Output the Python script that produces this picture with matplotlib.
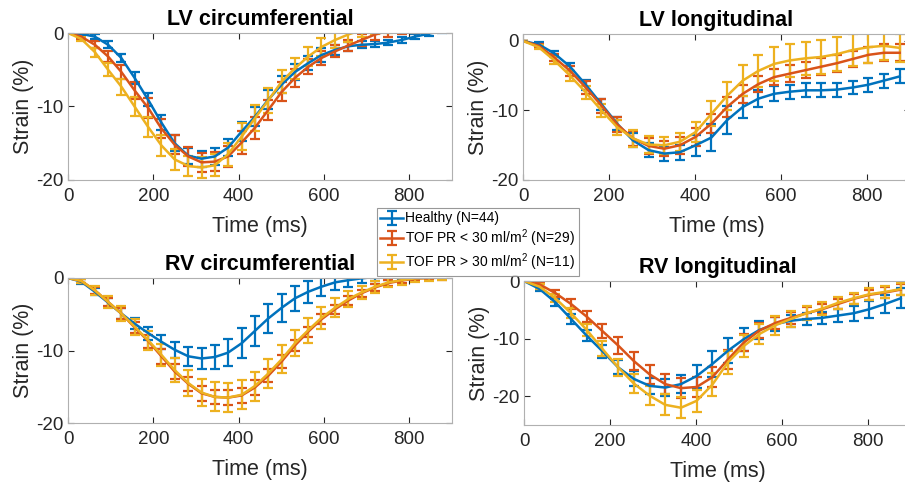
import numpy as np
import matplotlib
matplotlib.use("Agg")
import matplotlib.pyplot as plt

plt.rcParams['font.family'] = ['Liberation Sans', 'DejaVu Sans']
plt.rcParams['mathtext.fontset'] = 'custom'
plt.rcParams['mathtext.rm'] = 'Liberation Sans'
plt.rcParams['axes.unicode_minus'] = False

# tiempos de los frames (ms)
t_circ = [0, 31, 63, 94, 125, 156, 188, 219, 250, 282, 313, 344, 375, 407, 438,
          469, 501, 532, 563, 594, 626, 657, 688, 720, 751, 782, 813, 845, 876]
t_long = [0, 36.5, 73, 109.5, 146, 182.5, 219, 255.5, 292, 328.5, 365, 401.5, 438,
          474.5, 511, 547.5, 584, 620.5, 657, 693.5, 730, 766.5, 803, 839.5, 876]

# LV circumferential
lvc_h = [0, -0.1, -0.5, -1.6, -3.4, -6.1, -9.1, -12.2, -15.0, -16.7, -17.1, -16.8, -15.6, -13.4, -11.4,
         -9.1, -7.0, -5.3, -4.1, -3.0, -2.3, -1.8, -1.6, -1.5, -1.3, -0.95, -0.5, -0.1, 0.3]
lvc_h_err = [0, 0.2, 0.3, 0.5, 0.6, 0.8, 0.9, 1.0, 1.1, 1.1, 1.1, 1.1, 1.2, 1.3, 1.3,
             1.3, 1.2, 1.1, 1.0, 0.9, 0.7, 0.6, 0.5, 0.4, 0.4, 0.4, 0.3, 0.3, 0.3]
lvc_lo = [0, -0.5, -1.6, -3.2, -5.3, -7.8, -10.2, -13.0, -15.2, -16.8, -17.6, -17.5, -16.8, -14.9, -12.9,
          -10.5, -8.0, -6.1, -4.6, -3.4, -2.5, -1.7, -0.95, -0.2, 0.3, 0.6, 0.8, 0.9, 1.0]
lvc_lo_err = [0, 0.3, 0.5, 0.8, 1.0, 1.2, 1.3, 1.3, 1.3, 1.3, 1.3, 1.3, 1.4, 1.5, 1.5,
              1.4, 1.3, 1.2, 1.0, 0.9, 0.8, 0.8, 0.8, 0.8, 0.8, 0.8, 0.8, 0.8, 0.8]
lvc_hi = [0, -0.8, -2.6, -5.0, -7.3, -10.0, -12.8, -15.3, -17.2, -18.1, -18.3, -18.0, -16.5, -14.1, -11.6,
          -9.2, -6.6, -4.8, -3.2, -1.9, -0.95, -0.2, 0.4, 0.8, 1.0, 1.1, 1.2, 1.2, 1.2]
lvc_hi_err = [0, 0.3, 0.6, 0.9, 1.1, 1.3, 1.4, 1.4, 1.4, 1.4, 1.4, 1.5, 1.6, 1.8, 1.8,
              1.7, 1.5, 1.4, 1.3, 1.2, 1.1, 1.0, 1.0, 1.0, 1.0, 1.0, 1.0, 1.0, 1.0]

# LV longitudinal
lvl_h = [0, -0.5, -1.8, -3.7, -6.3, -9.1, -11.9, -14.3, -15.7, -16.2, -16.0, -15.0, -13.9,
         -11.4, -9.5, -8.3, -7.6, -7.3, -7.1, -7.1, -7.0, -6.7, -6.3, -5.7, -5.1]
lvl_h_err = [0, 0.3, 0.4, 0.6, 0.7, 0.8, 0.9, 1.0, 1.0, 1.0, 1.1, 1.5, 2.0,
             2.0, 1.6, 1.2, 1.1, 1.0, 1.0, 1.0, 1.0, 1.0, 1.0, 1.0, 1.0]
lvl_lo = [0, -0.7, -2.4, -4.3, -6.7, -9.3, -12.0, -14.0, -15.1, -15.5, -15.0, -13.8, -11.9,
          -9.5, -7.6, -6.2, -5.2, -4.7, -4.2, -3.7, -3.2, -2.6, -2.0, -1.7, -1.7]
lvl_lo_err = [0, 0.3, 0.5, 0.7, 0.9, 1.0, 1.1, 1.1, 1.1, 1.1, 1.2, 1.3, 1.4,
              1.4, 1.3, 1.2, 1.2, 1.2, 1.2, 1.2, 1.2, 1.2, 1.2, 1.2, 1.2]
lvl_hi = [0, -0.9, -2.8, -5.0, -7.4, -10.0, -12.4, -14.0, -14.9, -15.0, -14.5, -13.1, -10.5,
          -7.9, -5.7, -4.3, -3.3, -2.8, -2.5, -2.3, -1.9, -1.3, -0.9, -0.7, -1.0]
lvl_hi_err = [0, 0.3, 0.5, 0.7, 0.9, 1.0, 1.1, 1.2, 1.2, 1.2, 1.3, 1.5, 1.8,
              2.0, 2.2, 2.3, 2.4, 2.4, 2.4, 2.4, 2.4, 2.3, 2.2, 2.1, 2.0]

# RV circumferential
rvc_h = [0, -0.5, -1.9, -3.4, -4.9, -6.3, -7.6, -8.8, -9.9, -10.8, -11.1, -10.9, -10.3, -9.0, -7.3,
         -5.6, -4.1, -2.8, -1.9, -1.2, -0.6, -0.3, -0.05, 0.15, 0.25, 0.3, 0.3, 0.3, 0.3]
rvc_h_err = [0, 0.3, 0.5, 0.6, 0.7, 0.8, 0.9, 1.0, 1.1, 1.3, 1.5, 1.7, 1.9, 2.1, 2.1,
             2.0, 1.9, 1.7, 1.5, 1.3, 1.1, 0.9, 0.7, 0.6, 0.5, 0.4, 0.4, 0.4, 0.4]
rvc_lo = [0, -0.4, -1.7, -3.3, -4.9, -6.8, -8.7, -10.8, -12.9, -14.6, -15.9, -16.4, -16.5, -16.2, -15.1,
          -13.5, -11.5, -9.3, -7.4, -5.7, -4.3, -3.1, -2.1, -1.3, -0.7, -0.35, -0.1, 0.0, 0.05]
rvc_lo_err = [0, 0.3, 0.5, 0.6, 0.7, 0.8, 0.9, 1.0, 1.0, 1.0, 1.0, 1.0, 1.0, 1.0, 1.0,
              0.9, 0.9, 0.8, 0.7, 0.7, 0.6, 0.6, 0.5, 0.5, 0.4, 0.4, 0.3, 0.3, 0.3]
rvc_hi = [0, -0.4, -1.7, -3.3, -4.9, -6.7, -8.6, -10.6, -12.7, -14.5, -15.8, -16.4, -16.5, -16.1, -14.9,
          -13.2, -11.2, -9.0, -7.2, -5.5, -4.1, -2.9, -2.0, -1.2, -0.6, -0.3, -0.05, 0.0, 0.05]
rvc_hi_err = [0, 0.3, 0.6, 0.8, 1.0, 1.1, 1.3, 1.5, 1.6, 1.8, 1.9, 2.0, 2.0, 2.0, 2.0,
              2.0, 1.9, 1.8, 1.7, 1.5, 1.3, 1.1, 0.9, 0.8, 0.7, 0.6, 0.5, 0.4, 0.3]

# RV longitudinal
rvl_h = [0, -1.4, -3.7, -6.6, -9.5, -12.2, -15.0, -17.0, -18.2, -18.5, -17.9, -16.5, -14.4,
         -12.1, -10.1, -8.5, -7.5, -6.9, -6.6, -6.4, -6.0, -5.6, -4.9, -4.0, -3.0]
rvl_h_err = [0, 0.4, 0.6, 0.8, 1.0, 1.1, 1.2, 1.3, 1.4, 1.5, 1.6, 2.0, 2.2,
             2.2, 2.0, 1.6, 1.2, 1.0, 1.0, 1.1, 1.2, 1.3, 1.5, 1.6, 1.7]
rvl_lo = [0, -0.6, -2.1, -4.0, -6.2, -8.7, -11.2, -13.9, -16.2, -17.9, -18.6, -18.4, -16.7,
          -13.6, -10.7, -8.6, -7.3, -6.4, -5.6, -4.9, -4.0, -3.1, -2.4, -2.0, -1.5]
rvl_lo_err = [0, 0.4, 0.6, 0.8, 1.0, 1.2, 1.4, 1.6, 1.7, 1.7, 1.7, 1.7, 1.7,
              1.6, 1.5, 1.3, 1.1, 1.0, 1.0, 0.9, 0.9, 0.9, 0.9, 0.9, 0.9]
rvl_hi = [0, -1.0, -3.0, -5.6, -8.5, -11.8, -15.0, -17.8, -19.9, -21.5, -22.0, -20.8, -18.0,
          -14.1, -11.3, -9.2, -7.7, -6.6, -5.6, -4.8, -3.8, -3.0, -2.3, -1.9, -1.4]
rvl_hi_err = [0, 0.4, 0.7, 0.9, 1.1, 1.3, 1.5, 1.6, 1.7, 1.8, 1.8, 1.9, 2.0,
              2.0, 1.9, 1.8, 1.6, 1.4, 1.2, 1.1, 1.0, 1.0, 1.0, 1.0, 1.0]

etiquetas = ['Healthy (N=44)',
             r'TOF PR < 30 ml/m$^2$ (N=29)',
             r'TOF PR > 30 ml/m$^2$ (N=11)']
colores = ['#0072BD', '#D95319', '#EDB120']

paneles = [
    ('LV circumferential', t_circ, [(lvc_h, lvc_h_err), (lvc_lo, lvc_lo_err), (lvc_hi, lvc_hi_err)],
     (-20, 0), [68, 33, 452, 180]),
    ('LV longitudinal', t_long, [(lvl_h, lvl_h_err), (lvl_lo, lvl_lo_err), (lvl_hi, lvl_hi_err)],
     (-20, 1), [523, 34, 910, 180]),
    ('RV circumferential', t_circ, [(rvc_h, rvc_h_err), (rvc_lo, rvc_lo_err), (rvc_hi, rvc_hi_err)],
     (-20, 0), [68, 278, 452, 423]),
    ('RV longitudinal', t_long, [(rvl_h, rvl_h_err), (rvl_lo, rvl_lo_err), (rvl_hi, rvl_hi_err)],
     (-25, 0), [524, 281, 911, 425]),
]

W, H = 905, 487
fig = plt.figure(figsize=(W / 100, H / 100), dpi=100)

handles = []
for titulo, t, series, ylim, caja in paneles:
    x0, y0, x1, y1 = caja
    ax = fig.add_axes([x0 / W, 1 - y1 / H, (x1 - x0) / W, (y1 - y0) / H])
    hs = []
    for (m, e), c in zip(series, colores):
        h = ax.errorbar(t, m, yerr=e, color=c, lw=1.8, elinewidth=1.6, capsize=3.5, capthick=1.6)
        hs.append(h)
    handles = hs
    ax.set_xlim(0, 900)
    ax.set_ylim(*ylim)
    ax.set_xticks([0, 200, 400, 600, 800])
    ax.set_yticks([-20, -10, 0])
    ax.tick_params(direction='in', top=True, right=True, length=4, width=0.8,
                   color='#262626', labelsize=13.5, labelcolor='#262626')
    ax.tick_params(axis='x', pad=6)
    ax.tick_params(axis='y', pad=3)
    for s in ax.spines.values():
        s.set_color('#B0B0B0')
        s.set_linewidth(0.8)
    ax.set_xlabel('Time (ms)', fontsize=15.5, color='#262626', labelpad=8)
    ax.set_ylabel('Strain (%)', fontsize=15.5, color='#262626', labelpad=2)
    ax.set_title(titulo, fontsize=15.5, fontweight='bold', color='black', pad=6)

leg = fig.legend(handles, etiquetas, loc='upper left', bbox_to_anchor=(377 / W, 1 - 208 / H),
                 fontsize=10, frameon=True, fancybox=False, edgecolor='#7F7F7F',
                 handlelength=1.6, handletextpad=0.2, borderpad=0.25, labelspacing=0.15,
                 borderaxespad=0)
leg.get_frame().set_linewidth(0.8)

fig.savefig('out.png', dpi=100)
